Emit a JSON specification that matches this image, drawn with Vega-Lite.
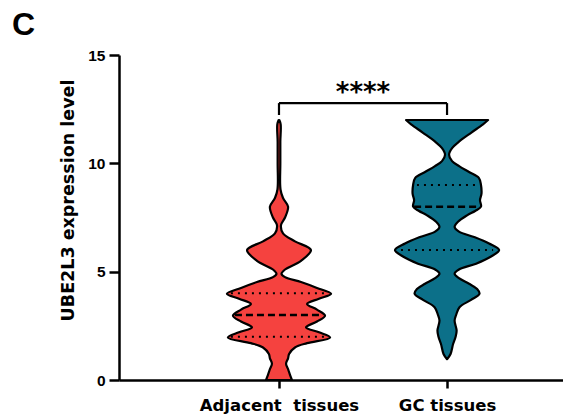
{
  "$schema": "https://vega.github.io/schema/vega-lite/v6.json",
  "width": 444,
  "height": 325,
  "autosize": {"type": "none"},
  "padding": {"left": 119, "top": 55, "right": 0, "bottom": 39},
  "background": "white",
  "title": {"text": "C", "anchor": "start", "frame": "group", "dx": -107, "offset": 6, "fontSize": 32, "font": "Liberation Sans", "fontWeight": "bold", "color": "black"},
  "config": {
    "view": {"stroke": null},
    "axis": {"domainColor": "black", "domainWidth": 2.5, "tickColor": "black", "tickWidth": 2.5, "grid": false, "labelFont": "Liberation Sans", "labelFontWeight": "bold", "labelColor": "black", "titleFont": "DejaVu Sans", "titleFontWeight": "bold", "titleColor": "black"}
  },
  "datasets": {
    "violin": [
      {"g": "Adjacent", "v": 0, "w": 0.077},
      {"g": "Adjacent", "v": 0.25, "w": 0.065},
      {"g": "Adjacent", "v": 0.5, "w": 0.054},
      {"g": "Adjacent", "v": 0.75, "w": 0.042},
      {"g": "Adjacent", "v": 1.0, "w": 0.054},
      {"g": "Adjacent", "v": 1.2, "w": 0.06},
      {"g": "Adjacent", "v": 1.5, "w": 0.095},
      {"g": "Adjacent", "v": 1.7, "w": 0.167},
      {"g": "Adjacent", "v": 1.96, "w": 0.304},
      {"g": "Adjacent", "v": 2.2, "w": 0.238},
      {"g": "Adjacent", "v": 2.43, "w": 0.161},
      {"g": "Adjacent", "v": 2.7, "w": 0.226},
      {"g": "Adjacent", "v": 2.97, "w": 0.274},
      {"g": "Adjacent", "v": 3.25, "w": 0.226},
      {"g": "Adjacent", "v": 3.51, "w": 0.167},
      {"g": "Adjacent", "v": 3.75, "w": 0.238},
      {"g": "Adjacent", "v": 3.98, "w": 0.31},
      {"g": "Adjacent", "v": 4.25, "w": 0.226},
      {"g": "Adjacent", "v": 4.52, "w": 0.131},
      {"g": "Adjacent", "v": 4.75, "w": 0.036},
      {"g": "Adjacent", "v": 4.9, "w": 0.015},
      {"g": "Adjacent", "v": 5.1, "w": 0.036},
      {"g": "Adjacent", "v": 5.5, "w": 0.131},
      {"g": "Adjacent", "v": 6.0, "w": 0.19},
      {"g": "Adjacent", "v": 6.4, "w": 0.095},
      {"g": "Adjacent", "v": 6.77, "w": 0.024},
      {"g": "Adjacent", "v": 7.15, "w": 0.012},
      {"g": "Adjacent", "v": 7.5, "w": 0.036},
      {"g": "Adjacent", "v": 8.0, "w": 0.054},
      {"g": "Adjacent", "v": 8.4, "w": 0.024},
      {"g": "Adjacent", "v": 8.8, "w": 0.009},
      {"g": "Adjacent", "v": 10.0, "w": 0.008},
      {"g": "Adjacent", "v": 11.0, "w": 0.008},
      {"g": "Adjacent", "v": 11.8, "w": 0.01},
      {"g": "Adjacent", "v": 12.0, "w": 0.002},
      {"g": "GC", "v": 0.96, "w": 0.0},
      {"g": "GC", "v": 1.2, "w": 0.021},
      {"g": "GC", "v": 1.66, "w": 0.036},
      {"g": "GC", "v": 2.0, "w": 0.051},
      {"g": "GC", "v": 2.28, "w": 0.057},
      {"g": "GC", "v": 2.74, "w": 0.045},
      {"g": "GC", "v": 3.0, "w": 0.054},
      {"g": "GC", "v": 3.36, "w": 0.074},
      {"g": "GC", "v": 3.7, "w": 0.143},
      {"g": "GC", "v": 3.98, "w": 0.193},
      {"g": "GC", "v": 4.2, "w": 0.179},
      {"g": "GC", "v": 4.44, "w": 0.131},
      {"g": "GC", "v": 4.7, "w": 0.071},
      {"g": "GC", "v": 4.9, "w": 0.045},
      {"g": "GC", "v": 5.1, "w": 0.071},
      {"g": "GC", "v": 5.37, "w": 0.173},
      {"g": "GC", "v": 5.7, "w": 0.262},
      {"g": "GC", "v": 6.0, "w": 0.31},
      {"g": "GC", "v": 6.3, "w": 0.25},
      {"g": "GC", "v": 6.6, "w": 0.161},
      {"g": "GC", "v": 6.85, "w": 0.071},
      {"g": "GC", "v": 7.07, "w": 0.045},
      {"g": "GC", "v": 7.3, "w": 0.065},
      {"g": "GC", "v": 7.6, "w": 0.119},
      {"g": "GC", "v": 7.8, "w": 0.167},
      {"g": "GC", "v": 8.0, "w": 0.202},
      {"g": "GC", "v": 8.3, "w": 0.196},
      {"g": "GC", "v": 8.6, "w": 0.205},
      {"g": "GC", "v": 9.0, "w": 0.202},
      {"g": "GC", "v": 9.32, "w": 0.19},
      {"g": "GC", "v": 9.6, "w": 0.131},
      {"g": "GC", "v": 9.86, "w": 0.074},
      {"g": "GC", "v": 10.1, "w": 0.03},
      {"g": "GC", "v": 10.4, "w": 0.012},
      {"g": "GC", "v": 10.7, "w": 0.03},
      {"g": "GC", "v": 11.0, "w": 0.071},
      {"g": "GC", "v": 11.41, "w": 0.143},
      {"g": "GC", "v": 11.8, "w": 0.214},
      {"g": "GC", "v": 12.0, "w": 0.244}
    ],
    "quart": [
      {"g": "Adjacent", "v": 4, "w": 0.286, "k": "q"},
      {"g": "Adjacent", "v": 3, "w": 0.262, "k": "m"},
      {"g": "Adjacent", "v": 2, "w": 0.286, "k": "q"},
      {"g": "GC", "v": 9, "w": 0.179, "k": "q"},
      {"g": "GC", "v": 8, "w": 0.196, "k": "m"},
      {"g": "GC", "v": 6, "w": 0.274, "k": "q"}
    ],
    "bracket": [
      {"x": 1, "x2": 2, "y": 12.78, "y2": 12.78},
      {"x": 1, "x2": 1, "y": 12.78, "y2": 12.23},
      {"x": 2, "x2": 2, "y": 12.78, "y2": 12.23}
    ],
    "sig": [
      {"x": 1.5, "y": 12.9, "label": "****"}
    ]
  },
  "layer": [
    {
      "data": {"name": "violin"},
      "transform": [
        {"calculate": "datum.g === 'GC' ? 2 : 1", "as": "c"},
        {"calculate": "datum.c - datum.w", "as": "lo"},
        {"calculate": "datum.c + datum.w", "as": "hi"}
      ],
      "mark": {"type": "area", "orient": "horizontal", "interpolate": "catmull-rom", "stroke": "black", "strokeWidth": 2.2, "strokeJoin": "round", "fillOpacity": 1},
      "encoding": {
        "y": {"field": "v", "type": "quantitative", "scale": {"domain": [0, 15], "nice": false}, "axis": {"values": [0, 5, 10, 15], "title": "UBE2L3 expression level", "labelFontSize": 15.5, "titleFontSize": 17.5, "labelPadding": 4, "tickSize": 10, "titlePadding": 10, "titleY": 145}},
        "x": {"field": "lo", "type": "quantitative", "scale": {"domain": [0.048, 2.69], "nice": false, "zero": false}, "axis": {"values": [1, 2], "title": null, "labelFont": "DejaVu Sans", "labelFontSize": 16.5, "tickSize": 8, "labelPadding": 9, "labelExpr": "datum.value === 1 ? 'Adjacent\u00a0 tissues' : 'GC tissues'"}},
        "x2": {"field": "hi"},
        "color": {"field": "g", "type": "nominal", "scale": {"domain": ["Adjacent", "GC"], "range": ["#F5423F", "#0C7089"]}, "legend": null}
      }
    },
    {
      "data": {"name": "quart"},
      "transform": [
        {"calculate": "datum.g === 'GC' ? 2 : 1", "as": "c"},
        {"calculate": "datum.c - datum.w", "as": "lo"},
        {"calculate": "datum.c + datum.w", "as": "hi"},
        {"filter": "datum.k === 'q'"}
      ],
      "mark": {"type": "rule", "color": "black", "strokeWidth": 2, "strokeDash": [2, 5]},
      "encoding": {
        "y": {"field": "v", "type": "quantitative"},
        "x": {"field": "lo", "type": "quantitative"},
        "x2": {"field": "hi"}
      }
    },
    {
      "data": {"name": "quart"},
      "transform": [
        {"calculate": "datum.g === 'GC' ? 2 : 1", "as": "c"},
        {"calculate": "datum.c - datum.w", "as": "lo"},
        {"calculate": "datum.c + datum.w", "as": "hi"},
        {"filter": "datum.k === 'm'"}
      ],
      "mark": {"type": "rule", "color": "black", "strokeWidth": 2.5, "strokeDash": [7, 4]},
      "encoding": {
        "y": {"field": "v", "type": "quantitative"},
        "x": {"field": "lo", "type": "quantitative"},
        "x2": {"field": "hi"}
      }
    },
    {
      "data": {"name": "bracket"},
      "mark": {"type": "rule", "color": "black", "strokeWidth": 2.2},
      "encoding": {
        "x": {"field": "x", "type": "quantitative"},
        "x2": {"field": "x2"},
        "y": {"field": "y", "type": "quantitative"},
        "y2": {"field": "y2"}
      }
    },
    {
      "data": {"name": "sig"},
      "mark": {"type": "text", "font": "DejaVu Sans", "fontWeight": "bold", "fontSize": 26, "baseline": "alphabetic", "align": "center", "color": "black"},
      "encoding": {
        "x": {"field": "x", "type": "quantitative"},
        "y": {"field": "y", "type": "quantitative"},
        "text": {"field": "label"}
      }
    }
  ]
}
